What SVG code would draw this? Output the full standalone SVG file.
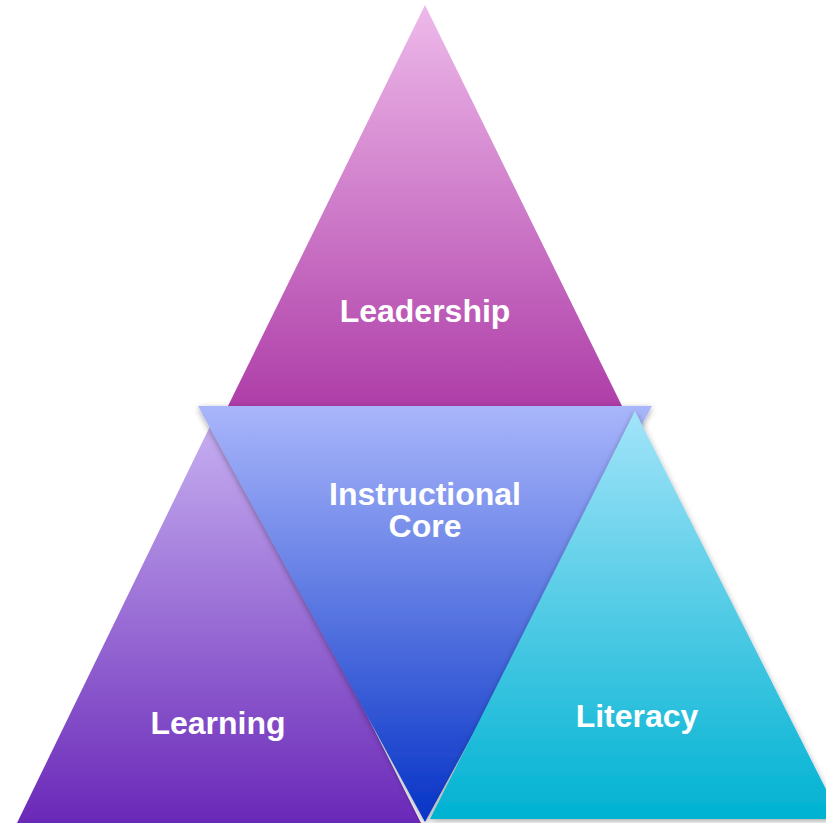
<svg xmlns="http://www.w3.org/2000/svg" width="826" height="823" viewBox="0 0 826 823">
<defs>
<linearGradient id="gTop" x1="0" y1="0" x2="0" y2="1">
<stop offset="0" stop-color="#EEBAEA"/>
<stop offset="1" stop-color="#AE3DA8"/>
</linearGradient>
<linearGradient id="gLeft" x1="0" y1="0" x2="0" y2="1">
<stop offset="0" stop-color="#C8B2F2"/>
<stop offset="1" stop-color="#6A28B8"/>
</linearGradient>
<linearGradient id="gCore" x1="0" y1="0" x2="0" y2="1">
<stop offset="0" stop-color="#A9B6FB"/>
<stop offset="1" stop-color="#0633C6"/>
</linearGradient>
<linearGradient id="gRight" x1="0" y1="0" x2="0" y2="1">
<stop offset="0" stop-color="#A2E4F9"/>
<stop offset="1" stop-color="#00B2D2"/>
</linearGradient>
<filter id="shadow" x="-10%" y="-10%" width="120%" height="120%">
<feDropShadow dx="0" dy="2" stdDeviation="3" flood-color="#000" flood-opacity="0.35"/>
</filter>
</defs>
<style>
.lbl{font-family:"Liberation Sans",Arial,sans-serif;font-weight:bold;font-size:32px;fill:#FFFFFF;text-anchor:middle}
</style>
<rect width="826" height="823" fill="#FFFFFF"/>
<g id="connectors"/>
<g id="leadership">
<polygon points="425,5 623,408 227,408" fill="url(#gTop)"/>
<text class="lbl" x="425" y="322">Leadership</text>
</g>
<g id="learning">
<polygon points="216,414 421,823 17,823" fill="url(#gLeft)"/>
<text class="lbl" x="218" y="734">Learning</text>
</g>
<g id="instructional-core">
<polygon points="198,406 652,406 425,822" fill="url(#gCore)" filter="url(#shadow)"/>
<text class="lbl" x="425" y="505">Instructional</text>
<text class="lbl" x="425" y="537">Core</text>
</g>
<g id="literacy">
<polygon points="635,411 841,819 430,819" fill="url(#gRight)" filter="url(#shadow)"/>
<text class="lbl" x="637" y="727">Literacy</text>
</g>
</svg>
